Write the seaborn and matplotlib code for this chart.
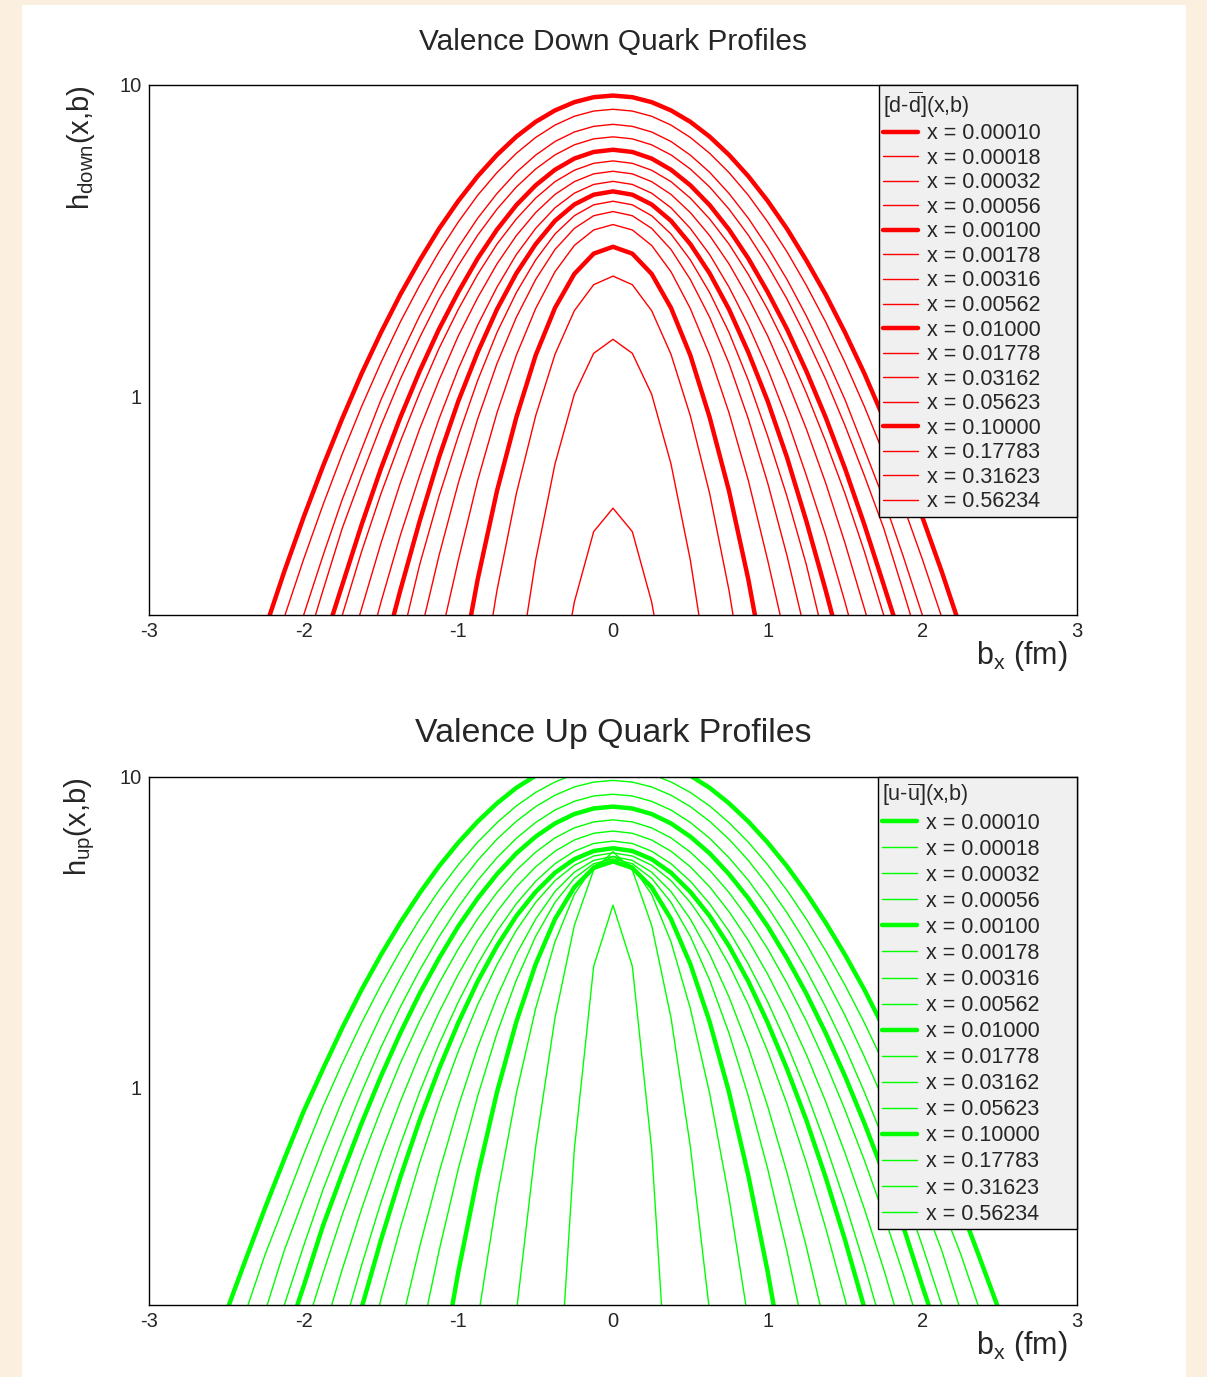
import numpy as np
import matplotlib
matplotlib.use("Agg")
import matplotlib.pyplot as plt
import seaborn as sns
from matplotlib.ticker import FixedLocator, FixedFormatter, NullFormatter
from matplotlib.patches import Rectangle

# ─────────────────────────────────────────────
# DATA  (profiles, b >= 0 half;
#        each profile is symmetric about b = 0)
# ─────────────────────────────────────────────
X_LABELS = ["0.00010", "0.00018", "0.00032", "0.00056", "0.00100", "0.00178",
            "0.00316", "0.00562", "0.01000", "0.01778", "0.03162", "0.05623",
            "0.10000", "0.17783", "0.31623", "0.56234"]

B_GRID = [0.0, 0.125, 0.25, 0.375, 0.5, 0.625, 0.75, 0.875, 1.0, 1.125, 1.25,
          1.375, 1.5, 1.625, 1.75, 1.875, 2.0, 2.125, 2.25, 2.375, 2.5]

# h_down(x, b) at b = B_GRID[0], B_GRID[1], ...
DOWN_H = [
    [9.25, 9.14, 8.81, 8.29, 7.62, 6.83, 5.97, 5.10, 4.25, 3.46, 2.74, 2.13, 1.61, 1.19, 0.854, 0.60, 0.412, 0.276, 0.18],
    [8.36, 8.25, 7.94, 7.44, 6.79, 6.04, 5.24, 4.43, 3.64, 2.92, 2.28, 1.74, 1.29, 0.933, 0.657, 0.451, 0.302, 0.197],
    [7.48, 7.37, 7.07, 6.59, 5.96, 5.25, 4.49, 3.74, 3.02, 2.38, 1.82, 1.35, 0.98, 0.68, 0.47, 0.31, 0.20, 0.12],
    [6.82, 6.72, 6.43, 5.97, 5.38, 4.71, 4.00, 3.30, 2.64, 2.06, 1.55, 1.14, 0.81, 0.56, 0.38, 0.24, 0.15],
    [6.20, 6.10, 5.81, 5.35, 4.77, 4.12, 3.44, 2.78, 2.17, 1.65, 1.21, 0.86, 0.59, 0.39, 0.25, 0.16],
    [5.71, 5.61, 5.33, 4.90, 4.34, 3.72, 3.09, 2.47, 1.91, 1.43, 1.03, 0.72, 0.49, 0.32, 0.20, 0.12],
    [5.29, 5.19, 4.90, 4.46, 3.90, 3.29, 2.67, 2.08, 1.57, 1.13, 0.79, 0.53, 0.34, 0.21, 0.13],
    [4.91, 4.80, 4.50, 4.04, 3.47, 2.86, 2.25, 1.70, 1.23, 0.85, 0.56, 0.36, 0.22, 0.13],
    [4.56, 4.45, 4.14, 3.67, 3.09, 2.49, 1.91, 1.39, 0.97, 0.64, 0.40, 0.24, 0.14],
    [4.24, 4.13, 3.81, 3.33, 2.75, 2.16, 1.61, 1.13, 0.75, 0.48, 0.29, 0.16],
    [3.93, 3.81, 3.47, 2.97, 2.38, 1.80, 1.28, 0.85, 0.53, 0.31, 0.17],
    [3.57, 3.43, 3.06, 2.52, 1.92, 1.36, 0.89, 0.54, 0.30, 0.16],
    [3.03, 2.88, 2.48, 1.93, 1.36, 0.86, 0.50, 0.26, 0.12],
    [2.44, 2.29, 1.89, 1.37, 0.87, 0.49, 0.24, 0.10],
    [1.53, 1.38, 1.02, 0.61, 0.30, 0.12],
    [0.44, 0.37, 0.22, 0.10],
]

# h_up(x, b) at b = B_GRID[0], B_GRID[1], ...
UP_H = [
    [12.0, 11.8, 11.5, 10.9, 10.1, 9.23, 8.23, 7.19, 6.15, 5.16, 4.23, 3.40, 2.68, 2.07, 1.56, 1.15, 0.84, 0.59, 0.41, 0.28, 0.19],
    [10.7, 10.5, 10.2, 9.64, 8.92, 8.07, 7.13, 6.17, 5.22, 4.32, 3.49, 2.76, 2.14, 1.62, 1.20, 0.87, 0.61, 0.42, 0.29, 0.19],
    [9.75, 9.63, 9.29, 8.74, 8.03, 7.20, 6.31, 5.39, 4.49, 3.66, 2.91, 2.25, 1.71, 1.26, 0.91, 0.64, 0.44, 0.30, 0.19],
    [8.80, 8.69, 8.35, 7.83, 7.14, 6.35, 5.50, 4.65, 3.82, 3.06, 2.39, 1.82, 1.35, 0.97, 0.68, 0.47, 0.31, 0.20, 0.13],
    [8.03, 7.92, 7.60, 7.09, 6.43, 5.68, 4.87, 4.07, 3.31, 2.61, 2.01, 1.50, 1.09, 0.77, 0.53, 0.36, 0.23, 0.15],
    [7.28, 7.17, 6.86, 6.37, 5.73, 5.01, 4.25, 3.50, 2.80, 2.17, 1.64, 1.20, 0.849, 0.585, 0.391, 0.253, 0.16],
    [6.70, 6.59, 6.27, 5.77, 5.14, 4.43, 3.69, 2.98, 2.32, 1.75, 1.28, 0.903, 0.617, 0.408, 0.261, 0.161],
    [6.22, 6.11, 5.77, 5.26, 4.62, 3.91, 3.19, 2.50, 1.89, 1.38, 0.97, 0.656, 0.428, 0.269, 0.163],
    [5.90, 5.78, 5.44, 4.92, 4.27, 3.57, 2.86, 2.20, 1.62, 1.15, 0.787, 0.515, 0.324, 0.196],
    [5.70, 5.57, 5.20, 4.64, 3.95, 3.21, 2.49, 1.85, 1.31, 0.888, 0.574, 0.354, 0.209, 0.118],
    [5.55, 5.39, 4.94, 4.28, 3.49, 2.69, 1.96, 1.35, 0.872, 0.533, 0.308, 0.168],
    [5.45, 5.26, 4.72, 3.95, 3.07, 2.22, 1.50, 0.94, 0.549, 0.298, 0.151],
    [5.35, 5.10, 4.42, 3.49, 2.50, 1.63, 0.968, 0.522, 0.256, 0.114],
    [5.55, 5.17, 4.19, 2.95, 1.80, 0.959, 0.443, 0.178],
    [5.75, 5.02, 3.33, 1.68, 0.647, 0.189],
    [3.87, 2.46, 0.634, 0.066],
]

X_TICKS = [-3, -2, -1, 0, 1, 2, 3]
Y_TICKS = [1, 10]
Y_MINOR = [0.2, 0.3, 0.4, 0.5, 0.6, 0.7, 0.8, 0.9, 2, 3, 4, 5, 6, 7, 8, 9]

# ─────────────────────────────────────────────
# STYLE
# ─────────────────────────────────────────────
sns.set_style("white")
plt.rcParams["font.family"] = ["Liberation Sans", "DejaVu Sans"]
plt.rcParams["mathtext.fontset"] = "custom"
plt.rcParams["mathtext.rm"] = "Liberation Sans"
plt.rcParams["mathtext.it"] = "Liberation Sans:italic"

fig = plt.figure(figsize=(12.07, 13.77), dpi=100, facecolor="#fbefdf")
fig.patches.append(Rectangle((22 / 1207, 0), (1186 - 22) / 1207, 1 - 5 / 1377,
                             transform=fig.transFigure, facecolor="white",
                             edgecolor="none", zorder=-1))

ax_top = fig.add_axes([149 / 1207, 1 - 615 / 1377, 928 / 1207, 530 / 1377])
ax_bot = fig.add_axes([149 / 1207, 1 - 1305 / 1377, 928 / 1207, 528 / 1377])

panels = [
    (ax_top, DOWN_H, "#ff0000", "Valence Down Quark Profiles", 21.5,
     r"h$_{\mathregular{down}}$(x,b)", r"[d-$\mathregular{\overline{d}}$](x,b)",
     0.7866, 0.165),
    (ax_bot, UP_H, "#00ff00", "Valence Up Quark Profiles", 24.4,
     r"h$_{\mathregular{up}}$(x,b)", r"[u-$\mathregular{\overline{u}}$](x,b)",
     0.7856, 0.235),
]

# ─────────────────────────────────────────────
# PLOTS
# ─────────────────────────────────────────────
for ax, curves, col, title, tsize, ylab, legtitle, legx, lspace in panels:
    for i, (lab, half) in enumerate(zip(X_LABELS, curves)):
        b = np.array(B_GRID[:len(half)])
        half = np.array(half)
        bx = np.concatenate([-b[::-1], b[1:]])
        hy = np.concatenate([half[::-1], half[1:]])
        lw = 3.2 if i % 4 == 0 else 1.0   # every decade in x drawn thick
        sns.lineplot(x=bx, y=hy, ax=ax, color=col, linewidth=lw,
                     label="x = " + lab, sort=False, estimator=None)

    ax.set_yscale("log")
    ax.set_xlim(-3, 3)
    ax.set_ylim(0.2, 10)

    ax.xaxis.set_major_locator(FixedLocator(X_TICKS))
    ax.xaxis.set_major_formatter(FixedFormatter([str(t) for t in X_TICKS]))
    ax.xaxis.set_minor_locator(FixedLocator(np.round(np.arange(-3, 3.01, 0.2), 2)))
    ax.yaxis.set_major_locator(FixedLocator(Y_TICKS))
    ax.yaxis.set_major_formatter(FixedFormatter([str(t) for t in Y_TICKS]))
    ax.yaxis.set_minor_locator(FixedLocator(Y_MINOR))
    ax.yaxis.set_minor_formatter(NullFormatter())
    ax.tick_params(which="both", direction="in", top=False, right=False,
                   color="black", width=1.0)
    ax.tick_params(axis="x", which="major", length=11, labelsize=14.5, pad=5)
    ax.tick_params(axis="x", which="minor", length=5.5)
    ax.tick_params(axis="y", which="major", length=20, labelsize=14.5, pad=5)
    ax.tick_params(axis="y", which="minor", length=9.5)
    for sp in ax.spines.values():
        sp.set_color("black")
        sp.set_linewidth(1.0)

    ax.set_title(title, fontsize=tsize, pad=25)
    ax.set_ylabel(ylab, fontsize=21, loc="top")
    ax.yaxis.set_label_coords(-0.056, 1.0)
    ax.set_xlabel(r"b$_{\mathregular{x}}$ (fm)", fontsize=22, loc="right")
    ax.xaxis.set_label_coords(0.99, -0.045)

    leg = ax.legend(loc="upper left", bbox_to_anchor=(legx, 0.0, 1.0 - legx, 1.0),
                    mode="expand", borderaxespad=0,
                    frameon=True, fancybox=False, edgecolor="black",
                    facecolor="#f0f0f0", framealpha=1, fontsize=15.5,
                    title=legtitle, title_fontsize=15.5, handlelength=1.6,
                    handletextpad=0.45, labelspacing=lspace, borderpad=0.2,
                    alignment="left")
    leg.get_frame().set_linewidth(1.0)

fig.savefig("out.png", dpi=100, facecolor=fig.get_facecolor())
